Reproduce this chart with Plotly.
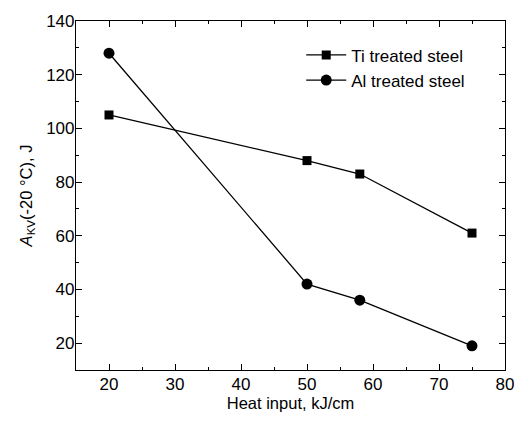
import plotly.graph_objects as go

heat_input = [20, 50, 58, 75]
ti_values = [105, 88, 83, 61]
al_values = [128, 42, 36, 19]
x_ticks = [20, 30, 40, 50, 60, 70, 80]
y_ticks = [20, 40, 60, 80, 100, 120, 140]

fig = go.Figure()
fig.add_trace(go.Scatter(x=heat_input, y=ti_values, mode="lines+markers", name="Ti treated steel",
                         line=dict(color="black", width=1.3),
                         marker=dict(symbol="square", size=9, color="black")))
fig.add_trace(go.Scatter(x=heat_input, y=al_values, mode="lines+markers", name="Al treated steel",
                         line=dict(color="black", width=1.3),
                         marker=dict(symbol="circle", size=11, color="black")))

font = "Liberation Sans, Arial, sans-serif"
axis_common = dict(showline=True, linecolor="black", linewidth=1.2, mirror="ticks",
                   ticks="inside", ticklen=6, tickwidth=1.2, tickcolor="black",
                   showgrid=False, zeroline=False,
                   tickfont=dict(family=font, size=17, color="black"))
fig.update_xaxes(range=[15, 80], tickvals=x_ticks,
                 minor=dict(dtick=5, tick0=15, ticks="inside", ticklen=3, tickwidth=1, tickcolor="black"),
                 title=dict(text="Heat input, kJ/cm", font=dict(family=font, size=16.5, color="black"), standoff=4),
                 ticklabelstandoff=-2,
                 **axis_common)
fig.update_yaxes(range=[10, 140], tickvals=y_ticks,
                 minor=dict(dtick=10, tick0=10, ticks="inside", ticklen=3, tickwidth=1, tickcolor="black"),
                 title=dict(text="<i>A</i><sub>KV</sub>(-20 °C), J", font=dict(family=font, size=16.5, color="black"), standoff=9),
                 ticklabelstandoff=-3,
                 **axis_common)
fig.update_layout(width=526, height=421, margin=dict(l=76, r=13, t=15, b=49),
                  plot_bgcolor="white", paper_bgcolor="white",
                  font=dict(family=font, color="black"),
                  legend=dict(x=0.525, y=0.953, xanchor="left", yanchor="top", itemwidth=40,
                              font=dict(family=font, size=17, color="black"),
                              bgcolor="rgba(0,0,0,0)", tracegroupgap=0))
fig.write_html("out.html")
